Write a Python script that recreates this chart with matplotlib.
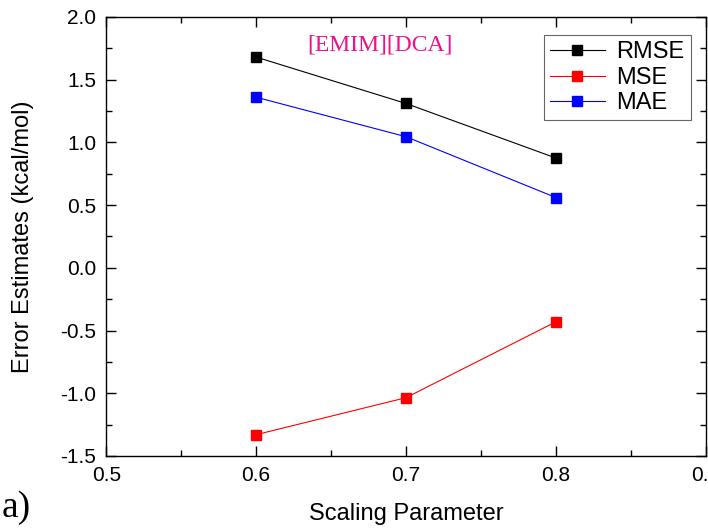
import numpy as np
import matplotlib
matplotlib.use("Agg")
from matplotlib import pyplot as plt
from matplotlib.ticker import MultipleLocator, FormatStrFormatter

# data
scaling = [0.6, 0.7, 0.8]
rmse = [1.68, 1.31, 0.875]
mse = [-1.33, -1.035, -0.43]
mae = [1.36, 1.045, 0.56]

plt.rcParams['font.family'] = ['Liberation Sans', 'DejaVu Sans']

fig = plt.figure(figsize=(7.08, 5.29), dpi=100)
ax = fig.add_axes([0.150, 0.138, 0.847, 0.830])

ax.plot(scaling, rmse, color='black', lw=0.8, marker='s', ms=7, label='RMSE')
ax.plot(scaling, mse, color='red', lw=0.8, marker='s', ms=7, label='MSE')
ax.plot(scaling, mae, color='blue', lw=0.8, marker='s', ms=7, label='MAE')

ax.set_xlim(0.5, 0.9)
ax.set_ylim(-1.5, 2.0)
ax.xaxis.set_major_locator(MultipleLocator(0.1))
ax.xaxis.set_minor_locator(MultipleLocator(0.05))
ax.yaxis.set_major_locator(MultipleLocator(0.5))
ax.yaxis.set_minor_locator(MultipleLocator(0.25))
ax.tick_params(which='both', direction='in', top=True, right=True, labelsize=15, width=1.0)
ax.tick_params(which='major', length=7.5)
ax.tick_params(which='minor', length=4)
ax.tick_params(axis='x', which='major', pad=7)
ax.tick_params(axis='y', which='major', pad=7)
ax.xaxis.set_major_formatter(FormatStrFormatter('%.1f'))
ax.yaxis.set_major_formatter(FormatStrFormatter('%.1f'))
for s in ax.spines.values():
    s.set_linewidth(1.0)

ax.set_xlabel("Scaling Parameter", fontsize=17, labelpad=13)
ax.set_ylabel("Error Estimates (kcal/mol)", fontsize=17, labelpad=19)

ax.text(0.634, 1.78, "[EMIM][DCA]", fontsize=17, color='#f0108a',
        family='Liberation Serif', ha='left', va='center',
        transform=ax.transData)

leg = ax.legend(loc='upper right', bbox_to_anchor=(0.998, 0.99), fontsize=17,
                frameon=True, fancybox=False, edgecolor='#404040',
                handlelength=2.3, borderpad=0.25, labelspacing=0.15, handletextpad=0.5,
                borderaxespad=0.6)
leg.get_frame().set_linewidth(0.8)

fig.text(0.003, 0.04, "a)", fontsize=27, family='Liberation Serif', ha='left', va='center')

fig.savefig("out.png", dpi=100)
